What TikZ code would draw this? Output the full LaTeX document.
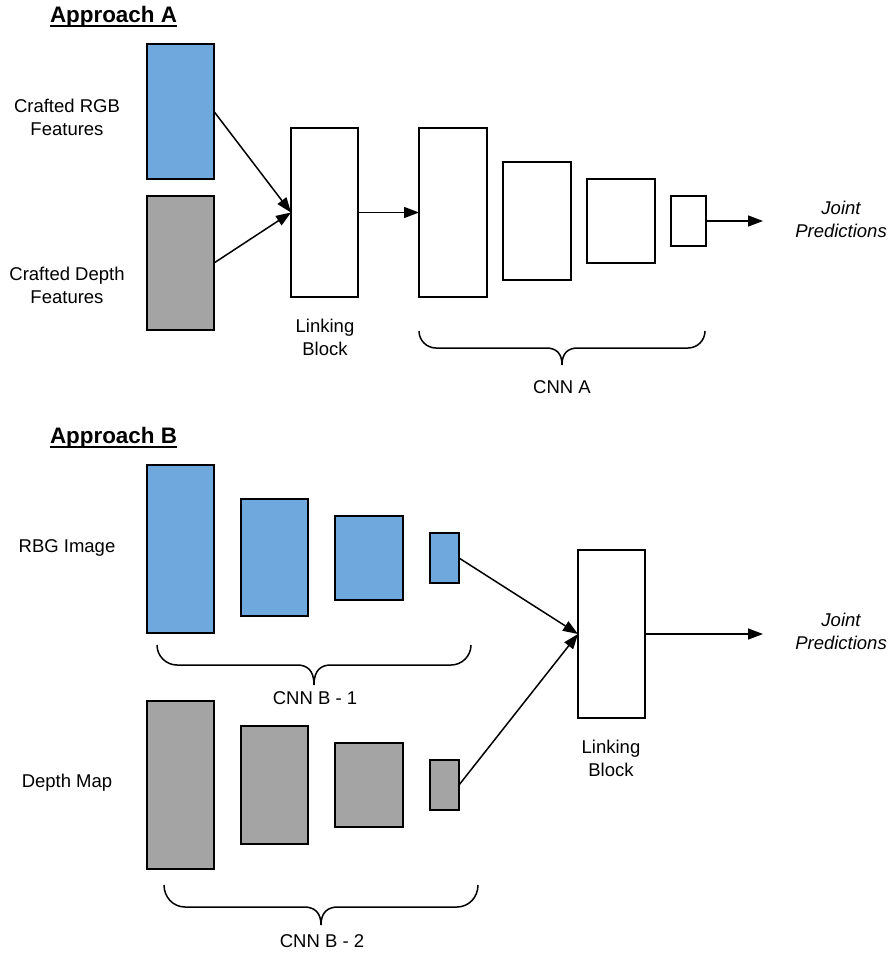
\documentclass[tikz,border=0pt]{standalone}
\usepackage{fontspec}
\setmainfont{Liberation Sans}
\usetikzlibrary{arrows.meta}
\definecolor{boxblue}{HTML}{6FA8DC}
\definecolor{boxgray}{HTML}{A4A4A4}
\begin{document}
\begin{tikzpicture}[x=1pt,y=-1pt,
  blk/.style={draw=black, line width=1.8pt, inner sep=0pt, outer sep=0pt},
  bbox/.style={blk, fill=boxblue},
  gbox/.style={blk, fill=boxgray},
  wbox/.style={blk, fill=white},
  sz/.style 2 args={minimum width=#1pt, minimum height=#2pt},
  lbl/.style={font=\fontsize{18.5}{23}\selectfont, align=center, inner sep=0pt},
  ilbl/.style={lbl, font=\fontsize{18.5}{23}\selectfont\itshape},
  ttl/.style={font=\fontsize{22.4}{26}\selectfont\bfseries, inner sep=0pt},
  arr/.style={line width=1.5pt, -{Triangle[length=15pt,width=11pt]}},
  brc/.style={line width=1.5pt}
]
\useasboundingbox (0,0) rectangle (889,953);

% ---------------- Approach A ----------------
\node[ttl] (tA) at (113.5,17) {Approach A};
\draw[line width=1.6pt] ([yshift=-3.5pt]tA.base west) -- ([yshift=-3.5pt]tA.base east);

\node[bbox, sz={67}{135}] (rgbA) at (180.5,111.5) {};
\node[gbox, sz={67}{134}] (depA) at (180.5,263) {};
\node[wbox, sz={67}{169}] (linkA) at (324.5,212.5) {};
\node[wbox, sz={68}{169}] (cA1) at (453,212.5) {};
\node[wbox, sz={68}{118}] (cA2) at (537,221) {};
\node[wbox, sz={68}{84}] (cA3) at (621,221) {};
\node[wbox, sz={35}{50}] (cA4) at (688.5,221) {};
\coordinate (outA) at (763,221);

\node[lbl] (lRGB) at (67,117.5) {Crafted RGB\\Features};
\node[lbl] (lDep) at (67,285) {Crafted Depth\\Features};
\node[lbl] (lLinkA) at (325,337) {Linking\\Block};
\node[ilbl] (jpA) at (841,219.5) {Joint\\Predictions};
\node[lbl] (cnnA) at (562,387) {CNN A};

\draw[arr] (rgbA.east) -- (linkA.west);
\draw[arr] (depA.east) -- (linkA.west);
\draw[arr] (linkA.east) -- (cA1.west);
\draw[arr] (cA4.east) -- (outA);

\draw[brc] (419,331) .. controls (419,340.4) and (426.6,348) .. (436,348)
  -- (546,348) .. controls (556,348) and (562,353) .. (562,365)
  .. controls (562,353) and (568,348) .. (578,348)
  -- (688,348) .. controls (697.4,348) and (705,340.4) .. (705,331);

% ---------------- Approach B ----------------
\node[ttl] (tB) at (113.5,438) {Approach B};
\draw[line width=1.6pt] ([yshift=-3.5pt]tB.base west) -- ([yshift=-3.5pt]tB.base east);

\node[bbox, sz={67}{168}] (rgbB1) at (180.5,549) {};
\node[bbox, sz={67}{117}] (rgbB2) at (274.5,557.5) {};
\node[bbox, sz={68}{84}] (rgbB3) at (369,558) {};
\node[bbox, sz={29}{50}] (rgbB4) at (444.5,558) {};

\node[gbox, sz={67}{168}] (depB1) at (180.5,785) {};
\node[gbox, sz={67}{118}] (depB2) at (274.5,785) {};
\node[gbox, sz={68}{84}] (depB3) at (369,785) {};
\node[gbox, sz={29}{50}] (depB4) at (444.5,785) {};

\node[wbox, sz={67}{168}] (linkB) at (611.5,634) {};
\coordinate (outB) at (763,634);

\node[lbl] (lRBG) at (67,548) {RBG Image};
\node[lbl] (lDM) at (67,783) {Depth Map};
\node[lbl] (lLinkB) at (611,758) {Linking\\Block};
\node[ilbl] (jpB) at (841,631) {Joint\\Predictions};
\node[lbl] (cnnB1) at (315,698) {CNN B - 1};
\node[lbl] (cnnB2) at (322,941) {CNN B - 2};

\draw[arr] (rgbB4.east) -- (linkB.west);
\draw[arr] (depB4.east) -- (linkB.west);
\draw[arr] (linkB.east) -- (outB);

\draw[brc] (157,645) .. controls (157,656) and (166,665) .. (177,665)
  -- (297,665) .. controls (307,665) and (314,670) .. (314,685)
  .. controls (314,670) and (321,665) .. (331,665)
  -- (451,665) .. controls (462,665) and (471,656) .. (471,645);

\draw[brc] (164,885) .. controls (164,897) and (173,907) .. (185,907)
  -- (304,907) .. controls (314,907) and (321,912) .. (321,925)
  .. controls (321,912) and (328,907) .. (338,907)
  -- (457,907) .. controls (469,907) and (478,897) .. (478,885);
\end{tikzpicture}
\end{document}
